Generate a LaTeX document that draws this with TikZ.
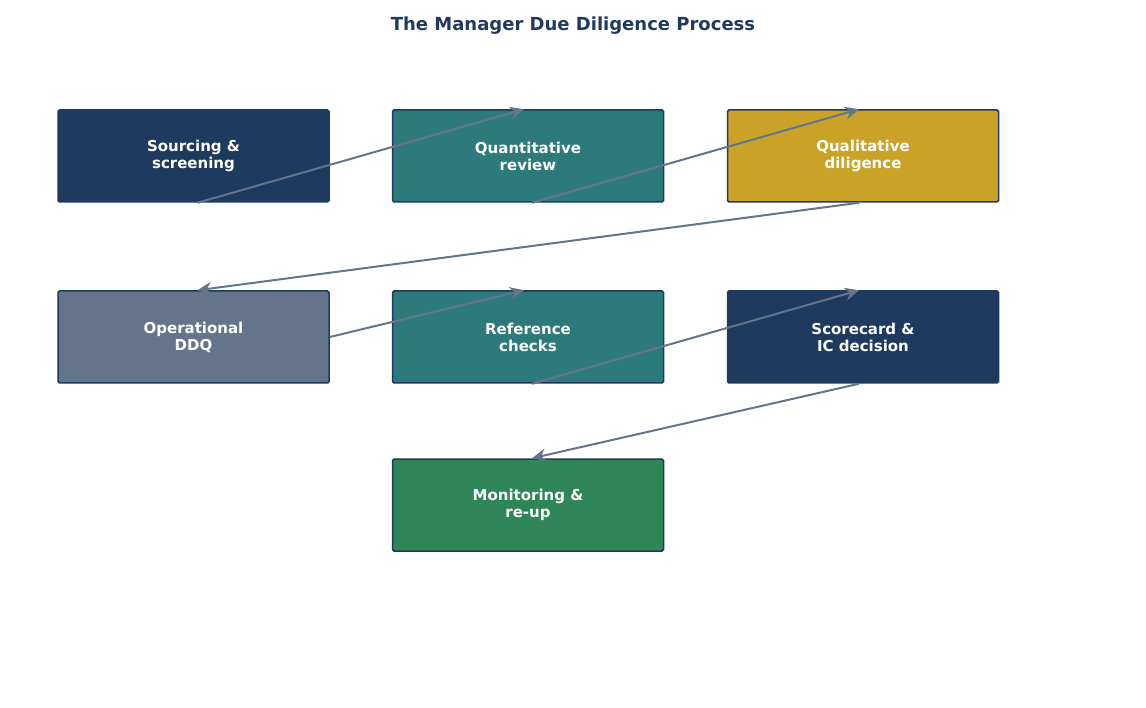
\documentclass[tikz,border=0pt]{standalone}
\usepackage{fontspec}
\setmainfont{DejaVu Sans}
\usetikzlibrary{arrows.meta}
\definecolor{navy}{HTML}{1F3A5F}
\definecolor{teal}{HTML}{2C7A7B}
\definecolor{gold}{HTML}{C9A227}
\definecolor{slate}{HTML}{64748B}
\definecolor{grn}{HTML}{2E8555}
\definecolor{arr}{HTML}{64748B}
\begin{document}
\begin{tikzpicture}[x=1pt,y=-1pt,
 box/.style={draw=navy,line width=1.5pt,rounded corners=1.5pt,minimum width=271pt,minimum height=92pt,text=white,font=\fontsize{15pt}{17pt}\selectfont\bfseries,align=center},
 conn/.style={draw=arr,line width=2pt,-{Stealth[length=14pt,width=13pt]}}]
\useasboundingbox (0,0) rectangle (1146,708);
\node[font=\fontsize{18pt}{20pt}\selectfont\bfseries,text=navy] (title) at (573,26) {The Manager Due Diligence Process};
\node[box,fill=navy] (a) at (193.5,156) {Sourcing \&\\screening};
\node[box,fill=teal] (b) at (528,156) {Quantitative\\review};
\node[box,fill=gold] (c) at (863,156) {Qualitative\\diligence};
\node[box,fill=slate] (d) at (193.5,337) {Operational\\DDQ};
\node[box,fill=teal] (e) at (528,337) {Reference\\checks};
\node[box,fill=navy] (f) at (863,337) {Scorecard \&\\IC decision};
\node[box,fill=grn] (g) at (528,505) {Monitoring \&\\re-up};
\draw[conn] ([xshift=4pt]a.south) -- ([xshift=-4pt]b.north);
\draw[conn] ([xshift=4pt]b.south) -- ([xshift=-4pt]c.north);
\draw[conn] ([xshift=-4pt]c.south) -- ([xshift=4pt]d.north);
\draw[conn] (d.east) -- ([xshift=-4pt]e.north);
\draw[conn] ([xshift=4pt]e.south) -- ([xshift=-4pt]f.north);
\draw[conn] ([xshift=-4pt]f.south) -- ([xshift=4pt]g.north);
\end{tikzpicture}
\end{document}
